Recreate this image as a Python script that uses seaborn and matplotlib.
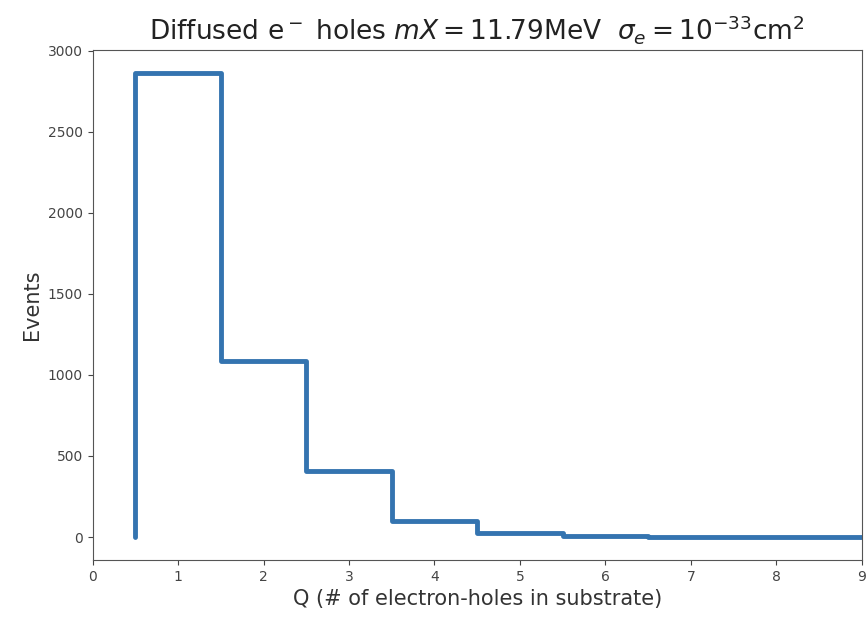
import matplotlib
matplotlib.use("Agg")
import matplotlib.pyplot as plt
import numpy as np
import seaborn as sns

# charge bins (number of electron-hole pairs) and event counts
bin_edges = [0.5, 1.5, 2.5, 3.5, 4.5, 5.5, 6.5, 7.5, 8.5, 9.5, 10.5]
events = [2864, 1087, 406, 100, 22, 6, 2, 1, 0, 0]

# step outline like a histtype='step' histogram (starts from zero at the first edge)
xs = np.repeat(bin_edges, 2)
ys = np.concatenate([[0], np.repeat(events, 2), [0]])

sns.set_style("ticks")
fig, ax = plt.subplots(figsize=(8.66, 6.19), dpi=100)
sns.lineplot(x=xs, y=ys, sort=False, estimator=None, color="#3474b0",
             linewidth=3.5, ax=ax)

ax.set_xlim(0, 9)
ax.set_ylim(-143, 3003)
ax.set_xticks(range(10))
ax.set_yticks([0, 500, 1000, 1500, 2000, 2500, 3000])
ax.tick_params(labelsize=10, colors="#444444")
for s in ax.spines.values():
    s.set_color("#555555")

ax.set_xlabel("Q (# of electron-holes in substrate)", fontsize=15, color="#333333")
ax.set_ylabel("Events", fontsize=15, color="#333333")
ax.set_title(r"Diffused e$^-$ holes $mX = 11.79$MeV  $\sigma_e = 10^{-33}$cm$^2$",
             fontsize=19, color="#222222", pad=8)

fig.subplots_adjust(left=0.107, right=0.995, top=0.919, bottom=0.095)
fig.savefig("out.png", dpi=100)
